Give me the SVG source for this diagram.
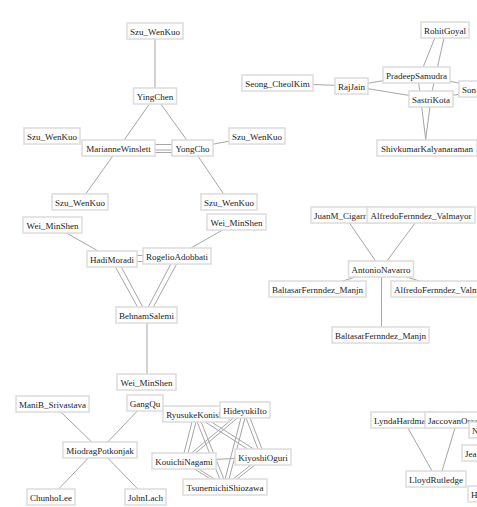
<svg xmlns="http://www.w3.org/2000/svg" width="477" height="507" viewBox="0 0 477 507">
<style>
.e line{stroke:#a6a6a6;stroke-width:1;fill:none}
.n rect{fill:#fff;stroke:#dcdcdc;stroke-width:1.5}
.n text{font-family:"Liberation Serif","Times New Roman",serif;font-size:9px;fill:#222;text-anchor:middle}
.n text.s{text-anchor:start}
</style>
<rect width="477" height="507" fill="#fff"/>
<g id="connectors" class="e">
<line x1="155" y1="31" x2="155" y2="96"/>
<line x1="155" y1="96" x2="118.5" y2="148"/>
<line x1="155" y1="96" x2="192.5" y2="148"/>
<line x1="118" y1="144.5" x2="192" y2="144.5"/>
<line x1="118" y1="150" x2="192" y2="150"/>
<line x1="118" y1="152.5" x2="192" y2="152.5"/>
<line x1="118.5" y1="148" x2="80" y2="202"/>
<line x1="192.5" y1="148" x2="229" y2="202"/>
<line x1="192.5" y1="148" x2="257" y2="136"/>
<line x1="52.5" y1="225" x2="112" y2="259"/>
<line x1="236.5" y1="222" x2="177" y2="256"/>
<line x1="112" y1="255.5" x2="177" y2="255.5"/>
<line x1="112" y1="261.5" x2="177" y2="261.5"/>
<line x1="111" y1="259" x2="142" y2="315"/>
<line x1="117" y1="259" x2="147" y2="315"/>
<line x1="175" y1="256" x2="144" y2="315"/>
<line x1="181" y1="256" x2="149" y2="315"/>
<line x1="147" y1="315" x2="147" y2="382"/>
<line x1="52.5" y1="404" x2="100" y2="450"/>
<line x1="145" y1="403" x2="100" y2="450"/>
<line x1="96" y1="450" x2="51" y2="497"/>
<line x1="100" y1="450" x2="145.5" y2="497"/>
<line x1="194" y1="414" x2="182" y2="461"/>
<line x1="198" y1="414" x2="186" y2="461"/>
<line x1="194" y1="414" x2="223" y2="487"/>
<line x1="198" y1="414" x2="227" y2="487"/>
<line x1="196" y1="412" x2="263" y2="455"/>
<line x1="196" y1="416" x2="263" y2="459"/>
<line x1="243" y1="410" x2="182" y2="461"/>
<line x1="247" y1="410" x2="186" y2="461"/>
<line x1="243" y1="410" x2="223" y2="487"/>
<line x1="247" y1="410" x2="227" y2="487"/>
<line x1="243" y1="410" x2="261" y2="457"/>
<line x1="247" y1="410" x2="265" y2="457"/>
<line x1="184" y1="461" x2="263" y2="457"/>
<line x1="182" y1="461" x2="223" y2="487"/>
<line x1="186" y1="461" x2="227" y2="487"/>
<line x1="261" y1="457" x2="223" y2="487"/>
<line x1="265" y1="457" x2="227" y2="487"/>
<line x1="277.5" y1="83" x2="351.5" y2="86"/>
<line x1="351.5" y1="86" x2="416.5" y2="75"/>
<line x1="351.5" y1="86" x2="431" y2="99"/>
<line x1="438" y1="30" x2="420" y2="75"/>
<line x1="445.8" y1="30" x2="430.3" y2="99"/>
<line x1="417.7" y1="75" x2="426.8" y2="148"/>
<line x1="431" y1="99" x2="424.5" y2="148"/>
<line x1="416.5" y1="75" x2="490" y2="89"/>
<line x1="431" y1="99" x2="490" y2="89"/>
<line x1="344" y1="215" x2="381" y2="269"/>
<line x1="421" y1="215" x2="381" y2="269"/>
<line x1="381" y1="269" x2="317.5" y2="289"/>
<line x1="381" y1="269" x2="445" y2="289"/>
<line x1="381.5" y1="269" x2="381.5" y2="335"/>
<line x1="403.5" y1="420" x2="436.5" y2="479"/>
<line x1="457.4" y1="420" x2="439.6" y2="479"/>
</g>
<g id="n1" class="n"><rect x="127" y="23" width="56" height="16"/><text x="155" y="34.5">Szu_WenKuo</text></g>
<g id="n2" class="n"><rect x="133.5" y="88" width="43" height="16"/><text x="155" y="99.5">YingChen</text></g>
<g id="n3" class="n"><rect x="24" y="128" width="56" height="16"/><text x="52" y="139.5">Szu_WenKuo</text></g>
<g id="n4" class="n"><rect x="82" y="140" width="73" height="16"/><text x="118.5" y="151.5">MarianneWinslett</text></g>
<g id="n5" class="n"><rect x="172" y="140" width="41" height="16"/><text x="192.5" y="151.5">YongCho</text></g>
<g id="n6" class="n"><rect x="229" y="128" width="56" height="16"/><text x="257" y="139.5">Szu_WenKuo</text></g>
<g id="n7" class="n"><rect x="52" y="194" width="56" height="16"/><text x="80" y="205.5">Szu_WenKuo</text></g>
<g id="n8" class="n"><rect x="201" y="194" width="56" height="16"/><text x="229" y="205.5">Szu_WenKuo</text></g>
<g id="n9" class="n"><rect x="23" y="217" width="59" height="16"/><text x="52.5" y="228.5">Wei_MinShen</text></g>
<g id="n10" class="n"><rect x="207" y="214" width="59" height="16"/><text x="236.5" y="225.5">Wei_MinShen</text></g>
<g id="n11" class="n"><rect x="87" y="251" width="50" height="16"/><text x="112" y="262.5">HadiMoradi</text></g>
<g id="n12" class="n"><rect x="143" y="248" width="68" height="16"/><text x="177" y="259.5">RogelioAdobbati</text></g>
<g id="n13" class="n"><rect x="116" y="307" width="61" height="16"/><text x="146.5" y="318.5">BehnamSalemi</text></g>
<g id="n14" class="n"><rect x="117" y="374" width="59" height="16"/><text x="146.5" y="385.5">Wei_MinShen</text></g>
<g id="n15" class="n"><rect x="16" y="396" width="73" height="16"/><text x="52.5" y="407.5">ManiB_Srivastava</text></g>
<g id="n16" class="n"><rect x="127" y="395" width="36" height="16"/><text x="145" y="406.5">GangQu</text></g>
<g id="n17" class="n"><rect x="63" y="442" width="74" height="16"/><text x="100" y="453.5">MiodragPotkonjak</text></g>
<g id="n18" class="n"><rect x="27" y="489" width="48" height="16"/><text x="51" y="500.5">ChunhoLee</text></g>
<g id="n19" class="n"><rect x="125" y="489" width="41" height="16"/><text x="145.5" y="500.5">JohnLach</text></g>
<g id="n20" class="n"><rect x="163" y="406" width="66" height="16"/><text x="196" y="417.5">RyusukeKonishi</text></g>
<g id="n21" class="n"><rect x="220" y="402" width="50" height="16"/><text x="245" y="413.5">HideyukiIto</text></g>
<g id="n22" class="n"><rect x="152" y="453" width="64" height="16"/><text x="184" y="464.5">KouichiNagami</text></g>
<g id="n23" class="n"><rect x="235" y="449" width="56" height="16"/><text x="263" y="460.5">KiyoshiOguri</text></g>
<g id="n24" class="n"><rect x="183" y="479" width="84" height="16"/><text x="225" y="490.5">TsunemichiShiozawa</text></g>
<g id="n25" class="n"><rect x="242" y="75" width="71" height="16"/><text x="277.5" y="86.5">Seong_CheolKim</text></g>
<g id="n26" class="n"><rect x="335" y="78" width="33" height="16"/><text x="351.5" y="89.5">RajJain</text></g>
<g id="n27" class="n"><rect x="421" y="22" width="48" height="16"/><text x="445" y="33.5">RohitGoyal</text></g>
<g id="n28" class="n"><rect x="383" y="67" width="67" height="16"/><text x="416.5" y="78.5">PradeepSamudra</text></g>
<g id="n29" class="n"><rect x="459" y="81" width="60" height="16"/><text class="s" x="462" y="92.5">Son</text></g>
<g id="n30" class="n"><rect x="409" y="91" width="44" height="16"/><text x="431" y="102.5">SastriKota</text></g>
<g id="n31" class="n"><rect x="377" y="140" width="100" height="16"/><text x="427" y="151.5">ShivkumarKalyanaraman</text></g>
<g id="n32" class="n"><rect x="311" y="207" width="66" height="16"/><text class="s" x="314" y="218.5">JuanM_Cigarr</text></g>
<g id="n33" class="n"><rect x="367" y="207" width="108" height="16"/><text x="421" y="218.5">AlfredoFernndez_Valmayor</text></g>
<g id="n34" class="n"><rect x="348.5" y="261" width="65" height="16"/><text x="381" y="272.5">AntonioNavarro</text></g>
<g id="n35" class="n"><rect x="269" y="281" width="97" height="16"/><text x="317.5" y="292.5">BaltasarFernndez_Manjn</text></g>
<g id="n36" class="n"><rect x="391" y="281" width="108" height="16"/><text class="s" x="394" y="292.5">AlfredoFernndez_Valmayor</text></g>
<g id="n37" class="n"><rect x="332" y="327" width="97" height="16"/><text x="380.5" y="338.5">BaltasarFernndez_Manjn</text></g>
<g id="n38" class="n"><rect x="371" y="412" width="63" height="16"/><text class="s" x="374" y="423.5">LyndaHardman</text></g>
<g id="n39" class="n"><rect x="425" y="412" width="90" height="16"/><text class="s" x="428" y="423.5">JaccovanOssenbruggen</text></g>
<g id="n40" class="n"><rect x="469" y="422" width="40" height="16"/><text class="s" x="472" y="433.5">N</text></g>
<g id="n41" class="n"><rect x="462" y="445" width="40" height="16"/><text class="s" x="465" y="456.5">Jea</text></g>
<g id="n42" class="n"><rect x="406" y="471" width="60" height="16"/><text x="436" y="482.5">LloydRutledge</text></g>
<g id="n43" class="n"><rect x="468" y="486" width="40" height="16"/><text class="s" x="471" y="497.5">H</text></g>
</svg>
